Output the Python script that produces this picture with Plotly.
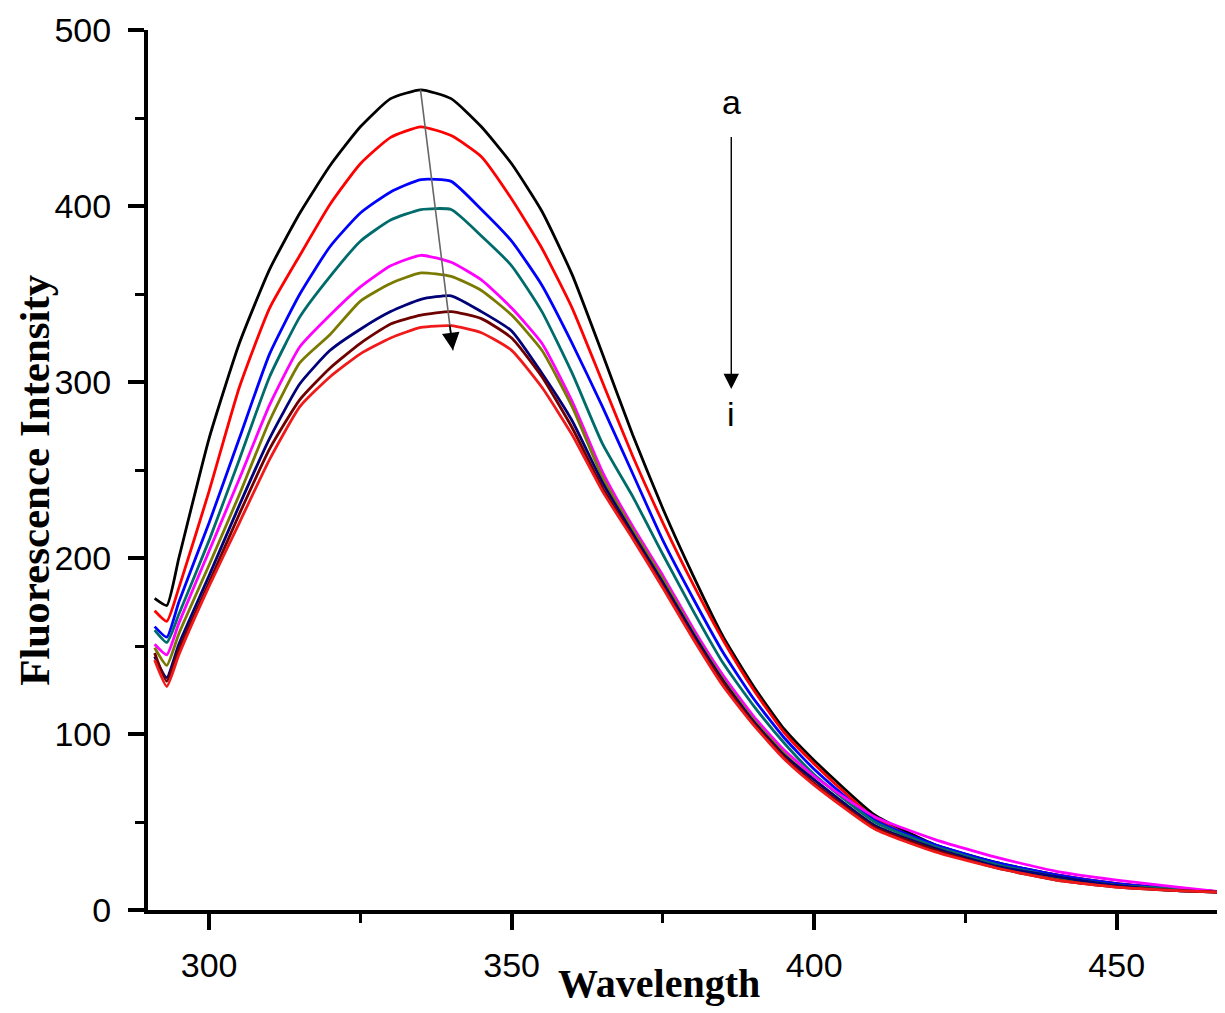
import plotly.graph_objects as go

wavelength = [291, 293, 295, 300, 305, 310, 315, 320, 325, 330, 335, 340, 345, 350, 355, 360, 365,
              370, 375, 380, 385, 390, 395, 400, 410, 420, 430, 440, 450, 460, 468]

curve_a = [177, 173, 200, 268, 322, 364, 396, 423, 445, 461, 466, 461, 445, 424, 397, 361, 316,
           270, 228, 190, 155, 127, 103, 85, 54, 37, 27, 20, 15, 12, 10]
curve_b = [170, 164, 183, 238, 297, 342, 372, 401, 424, 439, 445, 440, 428, 404, 376, 342, 300,
           258, 220, 185, 153, 125, 101, 83, 52, 36, 26, 20, 15, 12, 10]
curve_c = [161, 155, 175, 220, 268, 316, 350, 377, 396, 408, 415, 414, 398, 380, 355, 322, 286,
           248, 210, 177, 146, 120, 98, 80, 51, 37, 27, 20, 15, 12, 10]
curve_d = [159, 152, 168, 210, 256, 303, 337, 360, 380, 392, 398, 398, 383, 366, 340, 305, 265,
           235, 202, 170, 140, 116, 95, 77, 50, 36, 26, 19, 14, 12, 10]
curve_e = [151, 145, 163, 204, 245, 287, 320, 338, 354, 366, 372, 368, 358, 342, 322, 289, 249,
           218, 190, 160, 133, 110, 91, 76, 53, 40, 30, 22, 17, 13, 10]
curve_f = [149, 139, 157, 196, 236, 278, 311, 327, 346, 356, 362, 360, 352, 338, 318, 286, 246,
           216, 188, 158, 131, 108, 89, 74, 48, 35, 25, 18, 14, 11, 10]
curve_g = [144, 132, 151, 190, 230, 268, 299, 318, 330, 340, 347, 349, 340, 329, 305, 278, 243,
           214, 186, 157, 130, 107, 88, 74, 48, 35, 25, 19, 14, 11, 10]
curve_h = [146, 130, 148, 186, 225, 262, 290, 308, 322, 333, 338, 340, 336, 325, 303, 274, 240,
           212, 184, 155, 129, 106, 87, 72, 47, 34, 24, 17, 13, 11, 10]
curve_i = [142, 127, 145, 184, 220, 256, 286, 303, 316, 325, 331, 332, 328, 318, 297, 270, 238,
           211, 183, 154, 127, 105, 86, 71, 46, 33, 24, 17, 13, 11, 10]

series = [curve_a, curve_b, curve_c, curve_d, curve_e, curve_f, curve_g, curve_h, curve_i]
names = ["a", "b", "c", "d", "e", "f", "g", "h", "i"]
colors = ["#000000", "#FF0000", "#0000FF", "#006B6B", "#FF00FF", "#7A7A00", "#000078", "#6E0000", "#F01A1A"]

x_ticks = [300, 350, 400, 450]
y_ticks = [0, 100, 200, 300, 400, 500]

fig = go.Figure()
for ys, nm, col in zip(series, names, colors):
    fig.add_trace(go.Scatter(x=wavelength, y=ys, mode="lines", name=nm,
                             line=dict(color=col, width=2.8, shape="spline", smoothing=0.5),
                             showlegend=False))

axis_font = dict(family="Liberation Sans, Arial, sans-serif", size=34, color="black")

# page body has an 8px default margin, so the figure is sized to fit the window
fig.update_layout(
    width=1217, height=1005,
    margin=dict(l=140, r=0, t=22, b=103),
    paper_bgcolor="white", plot_bgcolor="white",
    xaxis=dict(range=[289.9, 467.9], tickvals=x_ticks, ticks="outside", ticklen=16, tickwidth=4,
               tickcolor="black", showline=True, linewidth=4, linecolor="black", showgrid=False,
               zeroline=False, tickfont=axis_font, ticklabelstandoff=6,
               minor=dict(ticks="outside", ticklen=9, tickwidth=3, tickcolor="black", dtick=25,
                          tick0=275, showgrid=False)),
    yaxis=dict(range=[0, 500], tickvals=y_ticks, ticks="outside", ticklen=16, tickwidth=4,
               tickcolor="black", showline=True, linewidth=4, linecolor="black", showgrid=False,
               zeroline=False, tickfont=axis_font, ticklabelstandoff=10,
               minor=dict(ticks="outside", ticklen=9, tickwidth=3, tickcolor="black", dtick=50,
                          tick0=0, showgrid=False)),
)

fig.add_annotation(text="<b>Wavelength</b>", xref="paper", yref="paper", x=0.4745, y=-0.083,
                   showarrow=False,
                   font=dict(family="Liberation Serif, Times New Roman, serif", size=40, color="black"),
                   xanchor="center", yanchor="middle")
fig.add_annotation(text="<b>Fluorescence Intensity</b>", xref="paper", yref="paper", x=-0.106, y=0.4886,
                   showarrow=False,
                   font=dict(family="Liberation Serif, Times New Roman, serif", size=43, color="black"),
                   textangle=-90, xanchor="center", yanchor="middle")

# diagonal arrow across the peaks (grey shaft, black head)
fig.add_annotation(x=340.3, y=318, ax=334.9, ay=467, xref="x", yref="y", axref="x", ayref="y",
                   text="", showarrow=True, arrowhead=0, arrowwidth=1.6, arrowcolor="#666666")
fig.add_annotation(x=340.3, y=318, ax=339.75, ay=333, xref="x", yref="y", axref="x", ayref="y",
                   text="", showarrow=True, arrowhead=2, arrowsize=2.2, arrowwidth=1.6,
                   arrowcolor="black")
# vertical arrow a -> i
fig.add_annotation(x=386.3, y=296, ax=386.3, ay=440, xref="x", yref="y", axref="x", ayref="y",
                   text="", showarrow=True, arrowhead=2, arrowsize=2.2, arrowwidth=1.4,
                   arrowcolor="black")
label_font = dict(family="Liberation Sans, Arial, sans-serif", size=34, color="black")
fig.add_annotation(x=386.3, y=459, xref="x", yref="y", text="a", showarrow=False, font=label_font)
fig.add_annotation(x=386.3, y=282, xref="x", yref="y", text="i", showarrow=False, font=label_font)

fig.write_html("out.html")
